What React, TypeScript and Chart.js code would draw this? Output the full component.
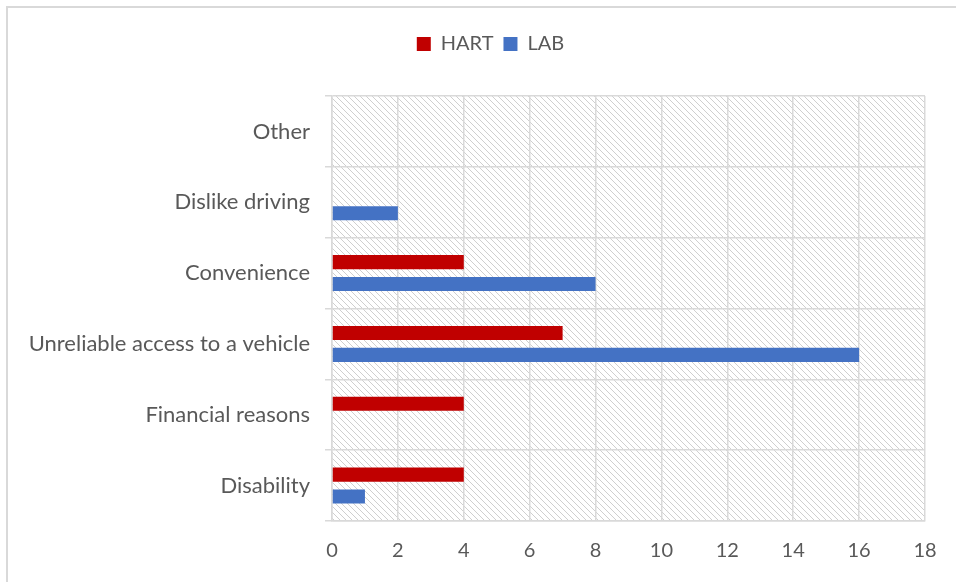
import React, { useEffect, useRef } from 'react';
import { Chart, registerables } from 'chart.js';

Chart.register(...registerables);

const categories = [
  'Other',
  'Dislike driving',
  'Convenience',
  'Unreliable access to a vehicle',
  'Financial reasons',
  'Disability',
];
const hartValues = [0, 0, 4, 7, 4, 4];
const labValues = [0, 2, 8, 16, 0, 1];
const xMin = 0;
const xMax = 18;
const xStep = 2;

const TEXT = '#595959';
const GRID = '#d9d9d9';

const hatchPlugin = {
  id: 'hatchAndFrame',
  beforeDraw(chart: any) {
    const { ctx, chartArea, width, height } = chart;
    ctx.save();
    ctx.strokeStyle = GRID;
    ctx.lineWidth = 2;
    ctx.beginPath();
    ctx.moveTo(7, height);
    ctx.lineTo(7, 7);
    ctx.lineTo(width, 7);
    ctx.stroke();
    const tile = document.createElement('canvas');
    tile.width = 6;
    tile.height = 6;
    const t = tile.getContext('2d')!;
    t.strokeStyle = '#cfcfcf';
    t.lineWidth = 1;
    t.beginPath();
    t.moveTo(-1, -1);
    t.lineTo(7, 7);
    t.moveTo(-1, 5);
    t.lineTo(1, 7);
    t.moveTo(5, -1);
    t.lineTo(7, 1);
    t.stroke();
    const pat = ctx.createPattern(tile, 'repeat');
    if (pat) {
      ctx.fillStyle = pat;
      ctx.fillRect(chartArea.left, chartArea.top, chartArea.right - chartArea.left, chartArea.bottom - chartArea.top);
    }
    ctx.restore();
  },
};

const legendSpacePlugin = {
  id: 'legendSpace',
  beforeUpdate(chart: any) {
    const lg = chart.legend;
    if (lg && !lg.__patched) {
      const orig = lg.fit;
      lg.fit = function () {
        orig.call(this);
        this.height = 96 - 24;
      };
      lg.__patched = true;
    }
  },
  afterLayout(chart: any) {
    const lg = chart.legend;
    if (lg) lg.left += 56;
  },
};

export default function App() {
  const ref = useRef<HTMLCanvasElement | null>(null);
  useEffect(() => {
    if (!ref.current) return;
    const chart = new Chart(ref.current, {
      type: 'bar',
      data: {
        labels: categories,
        datasets: [
          {
            label: 'HART',
            data: hartValues,
            backgroundColor: '#C00000',
            categoryPercentage: 0.62,
            barPercentage: 0.64,
          },
          {
            label: 'LAB',
            data: labValues,
            backgroundColor: '#4472C4',
            categoryPercentage: 0.62,
            barPercentage: 0.64,
          },
        ],
      },
      options: {
        indexAxis: 'y',
        responsive: false,
        animation: false,
        layout: { padding: { top: 24, right: 31, bottom: 0, left: 0 } },
        font: { family: 'Lato' },
        plugins: {
          tooltip: { enabled: false },
          legend: {
            position: 'top',
            align: 'center',
            labels: {
              color: TEXT,
              boxWidth: 14,
              boxHeight: 14,
              padding: 10,
              font: { family: 'Lato', size: 20 },
            },
          },
        },
        scales: {
          x: {
            min: xMin,
            max: xMax,
            ticks: {
              stepSize: xStep,
              color: TEXT,
              padding: 18,
              font: { family: 'Lato', size: 20 },
            },
            grid: { color: GRID, lineWidth: 1.5, drawTicks: false },
            border: { color: GRID, width: 1.5 },
            afterFit(scale: any) {
              scale.height = 582 - 521;
            },
          },
          y: {
            ticks: {
              color: TEXT,
              padding: 15,
              font: { family: 'Lato', size: 22 },
            },
            grid: { color: GRID, lineWidth: 1.5, tickLength: 7, offset: true },
            border: { color: GRID, width: 1.5 },
            afterFit(scale: any) {
              scale.width = 332;
            },
          },
        },
      },
      plugins: [hatchPlugin, legendSpacePlugin],
    } as any);
    return () => chart.destroy();
  }, []);
  return (
    <div style={{ position: 'fixed', left: 0, top: 0, width: 956, height: 582, background: '#fff' }}>
      <canvas ref={ref} width={956} height={582} style={{ display: 'block', width: 956, height: 582 }} />
    </div>
  );
}
